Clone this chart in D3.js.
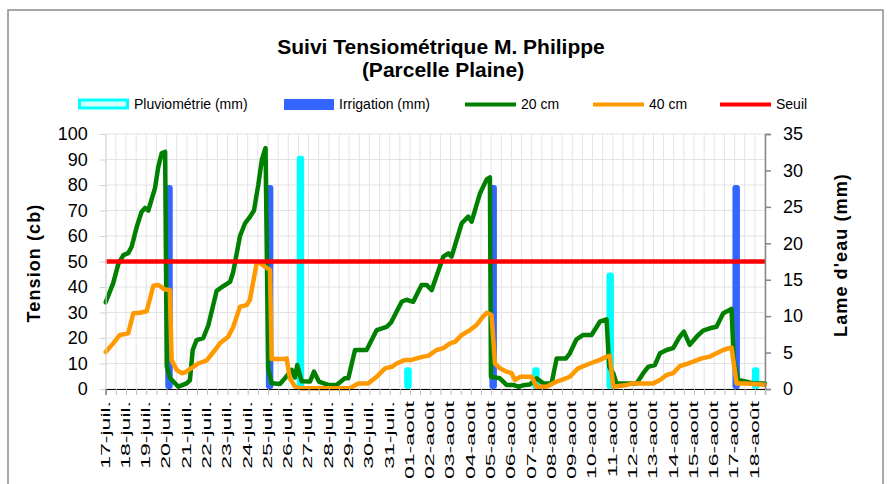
<!DOCTYPE html>
<html lang="fr">
<head>
<meta charset="UTF-8">
<title>Suivi Tensiométrique</title>
<script src="https://d3js.org/d3.v7.min.js"></script>
<style>
  body { margin: 0; background: #fff; }
  svg { display: block; font-family: "Liberation Sans", Arial, sans-serif; }
  .grid line { stroke: #e3e3e3; stroke-width: 1; }
</style>
</head>
<body>
<svg id="canvas"></svg>
<script>
// --- data (x in days since 17-juil. 00h) ---
let dayLabels = ["17-juil.","18-juil.","19-juil.","20-juil.","21-juil.","22-juil.","23-juil.","24-juil.",
  "25-juil.","26-juil.","27-juil.","28-juil.","29-juil.","30-juil.","31-juil.",
  "01-août","02-août","03-août","04-août","05-août","06-août","07-août","08-août","09-août",
  "10-août","11-août","12-août","13-août","14-août","15-août","16-août","17-août","18-août"]

let t20 = [0,0.37,0.62,0.87,1.11,1.28,1.53,1.77,1.94,2.10,2.43,2.59,2.76,2.93,3.01,3.17,3.58,3.99,4.15,4.29,
  4.48,4.81,5.06,5.47,5.73,6.13,6.29,6.62,6.87,7.11,7.31,7.52,7.70,7.88,8.01,8.18,8.59,8.92,9.17,9.33,
  9.44,9.66,10.07,10.27,10.51,10.96,11.38,11.79,11.96,12.29,12.86,13.36,13.85,14.06,14.59,14.83,15.16,15.57,15.82,16.07,
  16.64,16.89,17.05,17.55,17.87,18.04,18.45,18.78,18.94,18.99,19.43,19.76,20.09,20.34,20.67,20.91,21.24,21.57,21.98,22.23,
  22.69,22.88,23.21,23.54,23.95,24.36,24.69,24.82,25.02,25.18,26.17,26.50,26.74,27.07,27.32,27.65,27.97,28.30,28.50,28.79,
  29.13,29.45,29.78,30.11,30.44,30.85,30.96,31.18,31.59,31.92,32.5]
let v20 = [34,41.5,49,52.5,53.3,55.8,63.6,69.5,71,70,78.8,87,92.4,93,9,4.3,0.9,2.2,3.4,15.3,
  19.2,20,25,38.5,40,42,46,60,65,67.5,70,80,90,94.5,8,2.3,2,5,7.5,4.5,
  9.4,3,2.9,6.8,2.9,1.6,1.6,4.2,4.2,15.3,15.3,23.1,24.4,26,34.2,35,34.2,40.8,40.8,38.8,
  51.9,53.2,51.9,65,67.6,65.6,76.7,82.2,83,4.8,4.2,1.6,1.6,0.9,1.6,1.8,4.2,2.2,2.2,12,
  12,14,19.5,21.2,21.2,26.4,27.3,8.7,6.2,2.2,2.2,6.2,8.7,9.4,14,15.3,16,20.5,22.5,17.3,
  20.5,22.9,23.8,24.4,29.7,31.4,11.4,3.5,2.9,2.2,2.2]

let t40 = [0,0.37,0.70,1.11,1.36,1.69,2.02,2.35,2.59,2.92,3.16,3.25,3.50,3.75,3.91,4.56,4.98,5.39,5.63,6.04,
  6.29,6.62,6.95,7.11,7.44,7.52,7.85,8.10,8.18,8.84,8.92,9.08,9.33,9.58,12.04,12.45,12.94,13.36,13.77,14.10,
  14.34,14.75,15.08,15.33,15.65,15.90,16.31,16.64,16.97,17.22,17.55,17.96,18.28,18.53,18.78,19.02,19.19,19.43,19.76,20.01,
  20.17,20.42,21.00,21.24,21.73,22.23,22.55,22.88,23.28,23.87,24.36,24.69,24.85,25.02,25.68,26.00,26.99,27.32,27.65,27.97,
  28.30,28.63,28.96,29.37,29.78,30.11,30.44,30.85,31.10,31.59,32.5]
let v40 = [14.5,17.9,21.2,21.8,29.7,29.9,30.5,40.5,40.8,39,38.8,11.4,7.5,6.2,6.5,10,11.2,15.3,17.9,20.5,
  24.4,32.3,32.9,35,49.3,49.8,48,46.7,11.8,11.8,12,4.2,0.9,0.3,0.3,2.2,2.2,4.8,8.1,8.7,
  10,11.4,11.4,12,12.7,13,15.3,16,17.9,18.5,21.2,23.1,25.1,27.7,29.9,29,10,8.1,6.8,6.2,
  3.5,4.8,4.8,0.9,0.9,2.9,3.8,4.8,8.1,10,11.4,12.7,13,0.9,1.6,2.2,2.2,3.5,5.5,6.2,
  9,9.8,10.7,12,12.7,14,15.3,16.3,2.2,2.2,1.6]

let irrigDays = [3.12, 8.08, 19.10, 31.08]
let irrigMm = [28, 28, 28, 28]
let pluieDays = [9.60, 14.90, 21.21, 24.87, 32.04]
let pluieMm = [32, 3, 3, 16, 3]
let seuil = 50

let leftTicks = [0,10,20,30,40,50,60,70,80,90,100]
let rightTicks = [0,5,10,15,20,25,30,35]

// --- layout ---
let width = 890, height = 484
let plotL = 105.7, plotR = 765, plotT = 134, plotB = 389
let svg = d3.select('svg').attr('width', width).attr('height', height)

let xScale = d3.scaleLinear().domain([0, 32.5]).range([plotL, plotR])
let yScale = d3.scaleLinear().domain([0, 100]).range([plotB, plotT])
let y2Scale = d3.scaleLinear().domain([0, 35]).range([plotB, plotT])
let halfDays = d3.range(0, 32.51, 0.5)

// frame
svg.append('rect').attr('x', 8).attr('y', 10).attr('width', 875).attr('height', 490)
   .attr('fill', 'none').attr('stroke', '#8c8c8c').attr('stroke-width', 1.5)

// title
svg.append('text').attr('x', 441).attr('y', 54).attr('text-anchor', 'middle')
   .attr('font-size', 21).attr('font-weight', 'bold').text('Suivi Tensiométrique M. Philippe')
svg.append('text').attr('x', 443).attr('y', 77).attr('text-anchor', 'middle')
   .attr('font-size', 21).attr('font-weight', 'bold').text('(Parcelle Plaine)')

// gridlines
svg.append('g').attr('class', 'grid')
   .selectAll('line').data(leftTicks).enter().append('line')
   .attr('x1', plotL).attr('x2', plotR).attr('y1', d => yScale(d)).attr('y2', d => yScale(d))
svg.append('g').attr('class', 'grid')
   .selectAll('line').data(halfDays).enter().append('line')
   .attr('x1', d => xScale(d)).attr('x2', d => xScale(d)).attr('y1', plotT).attr('y2', plotB)

// bars
let barW = 7.5
svg.append('g').selectAll('rect').data(pluieDays).enter().append('rect')
   .attr('x', d => xScale(d) - barW / 2)
   .attr('y', (d, i) => y2Scale(pluieMm[i]))
   .attr('width', barW)
   .attr('height', (d, i) => plotB - y2Scale(pluieMm[i]))
   .attr('rx', 3).attr('fill', '#00ffff')
svg.append('g').selectAll('rect').data(irrigDays).enter().append('rect')
   .attr('x', d => xScale(d) - barW / 2)
   .attr('y', (d, i) => y2Scale(irrigMm[i]))
   .attr('width', barW)
   .attr('height', (d, i) => plotB - y2Scale(irrigMm[i]))
   .attr('rx', 3).attr('fill', '#3366ff')

// lines
let line = d3.line().x(d => xScale(d[0])).y(d => yScale(d[1]))
svg.append('path').datum(t20.map((t, i) => [t, v20[i]]))
   .attr('d', line).attr('fill', 'none').attr('stroke', '#008000')
   .attr('stroke-width', 4.5).attr('stroke-linejoin', 'round').attr('stroke-linecap', 'round')
svg.append('path').datum(t40.map((t, i) => [t, v40[i]]))
   .attr('d', line).attr('fill', 'none').attr('stroke', '#ff9900')
   .attr('stroke-width', 4.5).attr('stroke-linejoin', 'round').attr('stroke-linecap', 'round')
svg.append('path').datum([[0, seuil], [32.5, seuil]])
   .attr('d', line).attr('fill', 'none').attr('stroke', '#ff0000').attr('stroke-width', 4.5)

// axes
let yAxis = d3.axisLeft(yScale).tickValues(leftTicks).tickSize(6).tickPadding(12)
let gy = svg.append('g').attr('transform', 'translate(' + plotL + ',0)').call(yAxis)
gy.select('.domain').attr('stroke', '#d9d9d9')
gy.selectAll('.tick line').attr('stroke', '#d0d0d0')
gy.selectAll('text').attr('font-size', 18).attr('fill', '#000')
   .attr('font-family', '"Liberation Sans", Arial, sans-serif')

let y2Axis = d3.axisRight(y2Scale).tickValues(rightTicks).tickSize(6).tickPadding(12)
let gy2 = svg.append('g').attr('transform', 'translate(' + plotR + ',0)').call(y2Axis)
gy2.select('.domain').attr('stroke', '#868686').attr('stroke-width', 1.5)
gy2.selectAll('.tick line').attr('stroke', '#868686').attr('stroke-width', 1.5)
gy2.selectAll('text').attr('font-size', 18).attr('fill', '#000')
   .attr('font-family', '"Liberation Sans", Arial, sans-serif')

let xAxis = d3.axisBottom(xScale).tickValues(halfDays).tickSize(6).tickFormat('')
let gx = svg.append('g').attr('transform', 'translate(0,' + plotB + ')').call(xAxis)
gx.select('.domain').attr('stroke', '#000').attr('stroke-width', 1.2)
gx.selectAll('.tick line').attr('stroke', '#bdbdbd')

// date labels (rotated, squeezed like the source)
svg.append('g').selectAll('text').data(dayLabels).enter().append('text')
   .attr('transform', (d, i) => 'translate(' + (xScale(i) + 3.8) + ',401) rotate(-90) scale(1,0.52)')
   .attr('text-anchor', 'end').attr('font-size', 23).text(d => d)

// axis titles
svg.append('text').attr('transform', 'translate(40,263) rotate(-90)')
   .attr('text-anchor', 'middle').attr('font-size', 18).attr('font-weight', 'bold')
   .attr('letter-spacing', 1.1).text('Tension (cb)')
svg.append('text').attr('transform', 'translate(847,255) rotate(-90)')
   .attr('text-anchor', 'middle').attr('font-size', 18).attr('font-weight', 'bold')
   .attr('letter-spacing', 1.1).text("Lame d'eau (mm)")

// legend
let lg = svg.append('g').attr('font-size', 14)
lg.append('rect').attr('x', 79.5).attr('y', 100).attr('width', 48).attr('height', 8)
  .attr('fill', '#d4ffff').attr('stroke', '#00ffff').attr('stroke-width', 3)
lg.append('text').attr('x', 134).attr('y', 109).text('Pluviométrie (mm)')
lg.append('rect').attr('x', 284).attr('y', 99).attr('width', 50).attr('height', 11).attr('fill', '#3366ff')
lg.append('text').attr('x', 339).attr('y', 109).text('Irrigation (mm)')
let lgLines = [[465, '#008000', '20 cm'], [593, '#ff9900', '40 cm'], [720, '#ff0000', 'Seuil']]
lgLines.forEach(l => {
  lg.append('line').attr('x1', l[0]).attr('x2', l[0] + 51).attr('y1', 104.5).attr('y2', 104.5)
    .attr('stroke', l[1]).attr('stroke-width', 4)
  lg.append('text').attr('x', l[0] + 56).attr('y', 109).text(l[2])
})
</script>
</body>
</html>
